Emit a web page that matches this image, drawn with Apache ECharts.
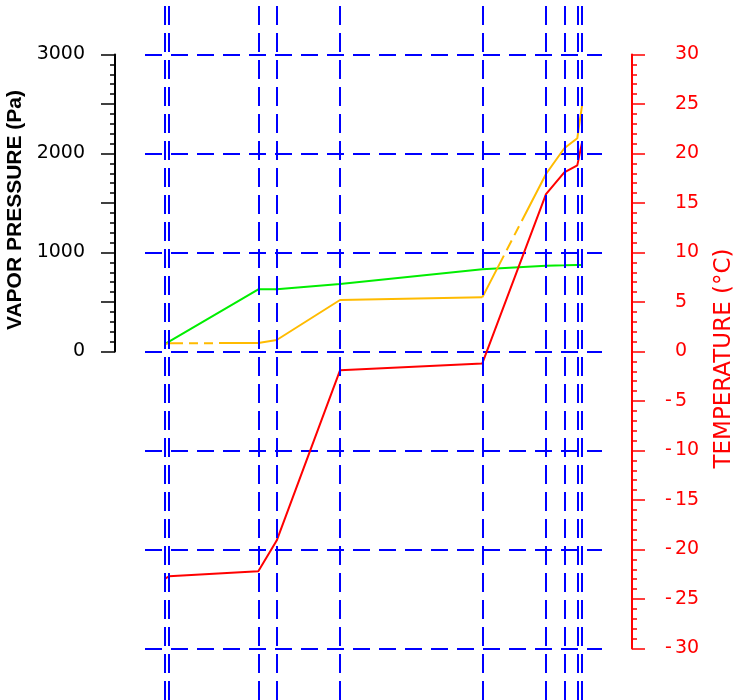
<!DOCTYPE html>
<html>
<head>
<meta charset="utf-8">
<script src="https://cdn.jsdelivr.net/npm/echarts@6/dist/echarts.min.js"></script>
<style>html,body{margin:0;padding:0;background:#fff}#c{width:736px;height:700px}</style>
</head>
<body>
<div id="c"></div>
<script>
// Layer boundary positions (arbitrary distance units across the section)
const depth = [19.5, 24, 113.3, 131.7, 195, 337.3, 401, 419.3, 432.3, 437];
// Temperature (°C) at each boundary
const temperature = [-23.0, -22.7, -22.2, -19.1, -1.9, -1.2, 15.9, 18.1, 18.8, 21.1];
// Vapour pressure (Pa) at each boundary
const vaporPressure = [75, 100, 628, 628, 682, 830, 867, 871, 874, 874];
// Saturation vapour pressure (Pa) at each boundary
const saturationPressure = [76, 83, 86, 116, 520, 547, 1793, 2053, 2154, 2480];
// Line style of each saturation segment (between consecutive boundaries)
const satSegmentStyle = ['solid', 'dash', 'solid', 'solid', 'solid', 'broken', 'solid', 'solid', 'solid'];

const BLUE = '#0000ff', RED = '#ff0000', GREEN = '#00ee00', ORANGE = '#ffbb00';
const xMax = 457;

const zip = (xs, ys) => xs.map((x, i) => [x, ys[i]]);

const satSolid = [];
const satDashed = [];
for (let i = 0; i < satSegmentStyle.length; i++) {
  const a = [depth[i], saturationPressure[i]], b = [depth[i + 1], saturationPressure[i + 1]];
  if (satSegmentStyle[i] === 'solid') {
    satSolid.push(a, b);
  } else {
    satSolid.push([depth[i], null]);
    satDashed.push({ style: satSegmentStyle[i], data: [a, b] });
  }
}

const dashPatterns = { dash: [14, 6, 9, 6, 9, 6, 100], broken: [47, 6, 11, 6, 10, 6, 200] };

const chart = echarts.init(document.getElementById('c'), null, { renderer: 'canvas' });

const font = 'DejaVu Sans';
const gridBase = { left: 145, right: 134, outerBoundsMode: 'none', containLabel: false };
const option = {
  animation: false,
  backgroundColor: '#fff',
  grid: [
    Object.assign({}, gridBase, { top: 54.5, bottom: 348.5 }),
    Object.assign({}, gridBase, { top: 54.5, bottom: 51.5 }),
    Object.assign({}, gridBase, { top: 0, bottom: 0 })
  ],
  xAxis: [0, 1, 2].map(g => ({
    type: 'value', gridIndex: g, min: 0, max: xMax, show: false,
    axisLine: { onZero: false },
    splitLine: { show: false }
  })),
  yAxis: [
    {
      type: 'value', gridIndex: 0, position: 'left', offset: 30,
      min: 0, max: 3000, interval: 500,
      axisLine: { show: true, onZero: false, lineStyle: { color: '#000', width: 2 } },
      axisTick: { show: true, length: 14, lineStyle: { color: '#000', width: 1.5 } },
      minorTick: { show: true, splitNumber: 5, length: 5, lineStyle: { color: '#000', width: 1.5 } },
      axisLabel: {
        margin: 30, color: '#000', fontFamily: font, fontSize: 19,
        formatter: v => (v % 1000 === 0 ? String(v) : '')
      },
      splitLine: { show: false },
      name: 'VAPOR PRESSURE (Pa)', nameLocation: 'middle', nameRotate: 90, nameGap: 76,
      nameTextStyle: { color: '#000', fontFamily: 'Liberation Sans', fontWeight: 'bold', fontSize: 21, padding: [0, 14, 0, 0] }
    },
    {
      type: 'value', gridIndex: 1, position: 'right', offset: 30,
      min: -30, max: 30, interval: 5,
      axisLine: { show: true, onZero: false, lineStyle: { color: RED, width: 2 } },
      axisTick: { show: true, length: 13, lineStyle: { color: RED, width: 1.5 } },
      minorTick: { show: true, splitNumber: 5, length: 5, lineStyle: { color: RED, width: 1.5 } },
      axisLabel: {
        margin: 30, align: 'left',
        formatter: v => (v < 0 ? '{m|-}{d|' + Math.abs(v) + '}' : '{m| }{d|' + v + '}'),
        rich: {
          m: { width: 13, align: 'right', color: RED, fontFamily: font, fontSize: 19 },
          d: { color: RED, fontFamily: font, fontSize: 19 }
        }
      },
      splitLine: { show: false },
      name: 'TEMPERATURE (°C)', nameLocation: 'middle', nameRotate: 90, nameGap: 81,
      nameTextStyle: { color: RED, fontFamily: font, fontSize: 23, padding: [0, 14, 0, 0] }
    },
    {
      type: 'value', gridIndex: 1, position: 'left',
      min: -30, max: 30, interval: 10,
      axisLine: { show: false, onZero: false }, axisTick: { show: false }, axisLabel: { show: false },
      splitLine: { show: true, lineStyle: { color: BLUE, width: 2, type: [17, 9] } }
    },
    {
      type: 'value', gridIndex: 2, min: 0, max: 1, show: false, splitLine: { show: false }
    }
  ],
  series: [
    {
      type: 'line', xAxisIndex: 2, yAxisIndex: 3, data: [], z: 1, silent: true,
      markLine: {
        silent: true, symbol: 'none', animation: false,
        label: { show: false },
        lineStyle: { color: BLUE, width: 2, type: [19, 8] },
        data: depth.map(d => ({ xAxis: d }))
      }
    },
    {
      name: 'vapor pressure', type: 'line', xAxisIndex: 0, yAxisIndex: 0,
      data: zip(depth, vaporPressure), showSymbol: false, symbol: 'none', clip: false, z: 3,
      lineStyle: { color: GREEN, width: 2 }
    },
    {
      name: 'saturation pressure', type: 'line', xAxisIndex: 0, yAxisIndex: 0,
      data: satSolid, showSymbol: false, symbol: 'none', clip: false, z: 3, connectNulls: false,
      lineStyle: { color: ORANGE, width: 2 }
    },
    ...satDashed.map(s => ({
      type: 'line', xAxisIndex: 0, yAxisIndex: 0, data: s.data,
      showSymbol: false, symbol: 'none', clip: false, z: 3,
      lineStyle: { color: ORANGE, width: 2, type: dashPatterns[s.style] }
    })),
    {
      name: 'temperature', type: 'line', xAxisIndex: 1, yAxisIndex: 1,
      data: zip(depth, temperature), showSymbol: false, symbol: 'none', clip: false, z: 4,
      lineStyle: { color: RED, width: 2 }
    }
  ]
};
chart.setOption(option);
</script>
</body>
</html>
